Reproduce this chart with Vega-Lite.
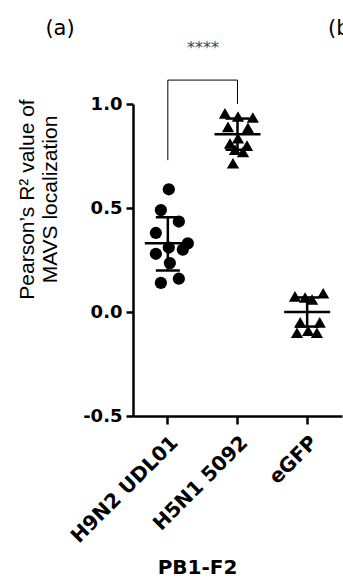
{
  "$schema": "https://vega.github.io/schema/vega-lite/v6.json",
  "width": 209,
  "height": 312,
  "autosize": {"type": "none"},
  "padding": {"left": 133, "top": 104, "right": 1, "bottom": 164},
  "background": "white",
  "config": {"view": {"stroke": null}},
  "datasets": {
    "points": [
      {"group": "H9N2 UDL01", "value": 0.59, "jit": 0.014},
      {"group": "H9N2 UDL01", "value": 0.49, "jit": -0.10},
      {"group": "H9N2 UDL01", "value": 0.435, "jit": 0.158},
      {"group": "H9N2 UDL01", "value": 0.38, "jit": -0.172},
      {"group": "H9N2 UDL01", "value": 0.33, "jit": 0.287},
      {"group": "H9N2 UDL01", "value": 0.30, "jit": 0.215},
      {"group": "H9N2 UDL01", "value": 0.31, "jit": 0.014},
      {"group": "H9N2 UDL01", "value": 0.28, "jit": -0.172},
      {"group": "H9N2 UDL01", "value": 0.235, "jit": 0.029},
      {"group": "H9N2 UDL01", "value": 0.16, "jit": 0.158},
      {"group": "H9N2 UDL01", "value": 0.14, "jit": -0.10},
      {"group": "H5N1 5092", "value": 0.955, "jit": -0.18},
      {"group": "H5N1 5092", "value": 0.94, "jit": 0.007},
      {"group": "H5N1 5092", "value": 0.935, "jit": 0.22},
      {"group": "H5N1 5092", "value": 0.89, "jit": -0.136},
      {"group": "H5N1 5092", "value": 0.885, "jit": 0.15},
      {"group": "H5N1 5092", "value": 0.835, "jit": 0.007},
      {"group": "H5N1 5092", "value": 0.81, "jit": -0.108},
      {"group": "H5N1 5092", "value": 0.80, "jit": 0.136},
      {"group": "H5N1 5092", "value": 0.78, "jit": -0.036},
      {"group": "H5N1 5092", "value": 0.77, "jit": 0.079},
      {"group": "H5N1 5092", "value": 0.715, "jit": -0.065},
      {"group": "eGFP", "value": 0.075, "jit": -0.175},
      {"group": "eGFP", "value": 0.07, "jit": -0.03},
      {"group": "eGFP", "value": 0.06, "jit": 0.07},
      {"group": "eGFP", "value": 0.09, "jit": 0.23},
      {"group": "eGFP", "value": -0.05, "jit": -0.10},
      {"group": "eGFP", "value": -0.05, "jit": 0.18},
      {"group": "eGFP", "value": -0.09, "jit": 0.014},
      {"group": "eGFP", "value": -0.10, "jit": -0.146},
      {"group": "eGFP", "value": -0.10, "jit": 0.14}
    ],
    "summary": [
      {"group": "H9N2 UDL01", "mean": 0.33, "lo": 0.20, "hi": 0.455},
      {"group": "H5N1 5092", "mean": 0.855, "lo": 0.78, "hi": 0.93},
      {"group": "eGFP", "mean": 0.0, "lo": -0.07, "hi": 0.07}
    ],
    "bracket": [
      {"group": "H9N2 UDL01", "y": 0.73, "order": 1},
      {"group": "H9N2 UDL01", "y": 1.115, "order": 2},
      {"group": "H5N1 5092", "y": 1.115, "order": 3},
      {"group": "H5N1 5092", "y": 1.0, "order": 4}
    ]
  },
  "layer": [
    {
      "data": {"name": "points"},
      "mark": {"type": "point", "filled": true, "opacity": 1, "color": "black", "size": 150},
      "encoding": {
        "x": {
          "field": "group", "type": "nominal",
          "scale": {"type": "band", "domain": ["H9N2 UDL01", "H5N1 5092", "eGFP"], "paddingInner": 0, "paddingOuter": 0},
          "axis": {
            "title": "PB1-F2",
            "titleFont": "DejaVu Sans", "titleFontWeight": "bold", "titleFontSize": 20, "titleColor": "black",
            "titleX": 64, "titleY": 157, "titleBaseline": "alphabetic", "titleAlign": "center",
            "labelAngle": -45, "labelFont": "DejaVu Sans", "labelFontWeight": "bold", "labelFontSize": 20, "labelColor": "black",
            "labelPadding": 8,
            "tickSize": 8, "tickWidth": 2.5, "tickColor": "black",
            "domainWidth": 2.5, "domainColor": "black", "grid": false
          }
        },
        "xOffset": {"field": "jit", "type": "quantitative", "scale": {"domain": [-0.5, 0.5], "range": [0, 69.67]}},
        "y": {
          "field": "value", "type": "quantitative",
          "scale": {"domain": [-0.5, 1.0], "nice": false, "zero": false},
          "axis": {
            "title": ["Pearson’s R² value of", "MAVS localization"],
            "titleFont": "Liberation Sans", "titleFontWeight": "normal", "titleFontSize": 21, "titleColor": "black",
            "titleLineHeight": 23, "titleY": 95, "titlePadding": 22,
            "values": [-0.5, 0, 0.5, 1.0], "format": ".1f",
            "labelExpr": "replace(datum.label, '−', '-')",
            "labelFont": "DejaVu Sans", "labelFontWeight": "bold", "labelFontSize": 18, "labelColor": "black",
            "labelPadding": 4,
            "tickSize": 7, "tickWidth": 2.5, "tickColor": "black",
            "domainWidth": 2.5, "domainColor": "black", "grid": false
          }
        },
        "shape": {
          "field": "group", "type": "nominal",
          "scale": {"domain": ["H9N2 UDL01", "H5N1 5092", "eGFP"], "range": ["circle", "triangle-up", "triangle-up"]},
          "legend": null
        }
      }
    },
    {
      "data": {"name": "summary"},
      "mark": {"type": "rule", "color": "black", "strokeWidth": 2.5},
      "encoding": {
        "x": {"field": "group", "type": "nominal"},
        "y": {"field": "lo", "type": "quantitative"},
        "y2": {"field": "hi"}
      }
    },
    {
      "data": {"name": "summary"},
      "mark": {"type": "tick", "color": "black", "size": 46, "thickness": 2.5, "opacity": 1},
      "encoding": {
        "x": {"field": "group", "type": "nominal"},
        "y": {"field": "mean", "type": "quantitative"}
      }
    },
    {
      "data": {"name": "summary"},
      "mark": {"type": "tick", "color": "black", "size": 24, "thickness": 2.5, "opacity": 1},
      "encoding": {
        "x": {"field": "group", "type": "nominal"},
        "y": {"field": "lo", "type": "quantitative"}
      }
    },
    {
      "data": {"name": "summary"},
      "mark": {"type": "tick", "color": "black", "size": 24, "thickness": 2.5, "opacity": 1},
      "encoding": {
        "x": {"field": "group", "type": "nominal"},
        "y": {"field": "hi", "type": "quantitative"}
      }
    },
    {
      "data": {"name": "bracket"},
      "mark": {"type": "line", "color": "black", "strokeWidth": 1, "clip": false},
      "encoding": {
        "x": {"field": "group", "type": "nominal"},
        "y": {"field": "y", "type": "quantitative"},
        "order": {"field": "order", "type": "quantitative"}
      }
    },
    {
      "data": {"values": [{"label": "****", "group": "H9N2 UDL01"}]},
      "mark": {"type": "text", "font": "DejaVu Sans", "fontSize": 16, "color": "#444", "align": "center", "baseline": "alphabetic"},
      "encoding": {
        "x": {"field": "group", "type": "nominal"},
        "xOffset": {"datum": 0.505, "type": "quantitative", "scale": {"domain": [-0.5, 0.5], "range": [0, 69.67]}},
        "y": {"datum": 1.245, "type": "quantitative"},
        "text": {"field": "label"}
      }
    },
    {
      "data": {"values": [{"label": "(a)", "group": "H9N2 UDL01"}]},
      "mark": {"type": "text", "font": "DejaVu Sans", "fontSize": 21, "color": "black", "align": "center", "baseline": "middle"},
      "encoding": {
        "x": {"field": "group", "type": "nominal"},
        "xOffset": {"datum": -1.547, "type": "quantitative", "scale": {"domain": [-0.5, 0.5], "range": [0, 69.67]}},
        "y": {"datum": 1.36, "type": "quantitative"},
        "text": {"field": "label"}
      }
    },
    {
      "data": {"values": [{"label": "(b)", "group": "eGFP"}]},
      "mark": {"type": "text", "font": "DejaVu Sans", "fontSize": 21, "color": "black", "align": "left", "baseline": "middle"},
      "encoding": {
        "x": {"field": "group", "type": "nominal"},
        "xOffset": {"datum": 0.30, "type": "quantitative", "scale": {"domain": [-0.5, 0.5], "range": [0, 69.67]}},
        "y": {"datum": 1.36, "type": "quantitative"},
        "text": {"field": "label"}
      }
    }
  ]
}
